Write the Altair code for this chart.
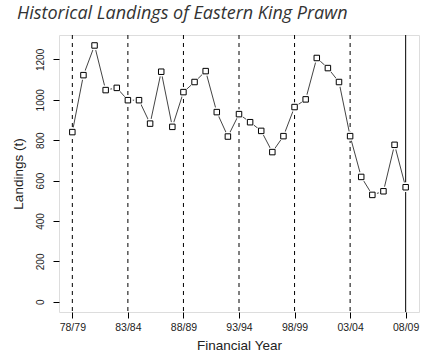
import altair as alt
import pandas as pd

# Financial years (start year) and landings (t)
years = list(range(1978, 2009))
landings = [840, 1122, 1269, 1048, 1059, 998, 998, 882, 1139, 866,
            1038, 1088, 1142, 939, 818, 929, 889, 846, 741, 820,
            964, 1002, 1207, 1157, 1088, 820, 618, 529, 547, 777, 567]

tick_years = [1978, 1983, 1988, 1993, 1998, 2003, 2008]
tick_labels = ["78/79", "83/84", "88/89", "93/94", "98/99", "03/04", "08/09"]

dashed_years = [1978, 1983, 1988, 1993, 1998, 2003]
solid_years = [2008]

df = pd.DataFrame({"year": years, "landings": landings})
dash_df = pd.DataFrame({"year": dashed_years})
solid_df = pd.DataFrame({"year": solid_years})

label_expr = "{" + ",".join(f"'{y}':'{l}'" for y, l in zip(tick_years, tick_labels)) + "}[datum.value]"

xscale = alt.Scale(domain=[1976.8, 2009.2], nice=False, zero=False)
yscale = alt.Scale(domain=[-50.8, 1320.8], nice=False, zero=False)

xaxis = alt.Axis(values=tick_years, labelExpr=label_expr, title="Financial Year",
                 grid=False, domain=False, tickColor="black", tickSize=6,
                 labelFont="Liberation Sans", labelFontSize=10.5, labelColor="#222",
                 labelPadding=4, titleFont="Liberation Sans", titleFontSize=13.5,
                 titleFontWeight="normal", titleColor="#222", titlePadding=6)
yaxis = alt.Axis(values=[0, 200, 400, 600, 800, 1000, 1200], format="d", title="Landings (t)",
                 grid=False, domain=False, tickColor="black", tickSize=6,
                 labelAngle=-90, labelAlign="center", labelBaseline="bottom",
                 labelFont="Liberation Sans", labelFontSize=10, labelColor="#222",
                 labelPadding=8, titleFont="Liberation Sans", titleFontSize=13.5,
                 titleFontWeight="normal", titleColor="#222", titlePadding=10)

base = alt.Chart(df)

line = base.mark_line(color="#444", strokeWidth=1).encode(
    x=alt.X("year:Q", scale=xscale, axis=xaxis),
    y=alt.Y("landings:Q", scale=yscale, axis=yaxis),
)
mask = base.mark_point(shape="circle", filled=True, color="white", opacity=1, size=95).encode(
    x="year:Q", y="landings:Q")
pts = base.mark_point(shape="square", filled=False, color="black", strokeWidth=1,
                      size=30, opacity=1).encode(x="year:Q", y="landings:Q")

vdash = alt.Chart(dash_df).mark_rule(color="black", strokeWidth=1, strokeDash=[4, 4]).encode(
    x="year:Q")
vsolid = alt.Chart(solid_df).mark_rule(color="black", strokeWidth=1).encode(x="year:Q")

chart = alt.layer(vdash, vsolid, line, mask, pts).properties(
    width=360, height=277,
    autosize=alt.AutoSizeParams(type="none"),
    padding={"left": 59, "top": 35, "right": 16, "bottom": 49},
    title=alt.TitleParams("Historical Landings of Eastern King Prawn",
                          anchor="start", frame="group", font="Open Sans",
                          fontStyle="italic", fontWeight="normal", fontSize=18,
                          color="#333", dx=-42, dy=12, offset=10, baseline="alphabetic"),
).configure_view(stroke="black", strokeWidth=1).configure(background="white")

chart.save("out.html", embed_options={"renderer": "svg", "actions": False})
